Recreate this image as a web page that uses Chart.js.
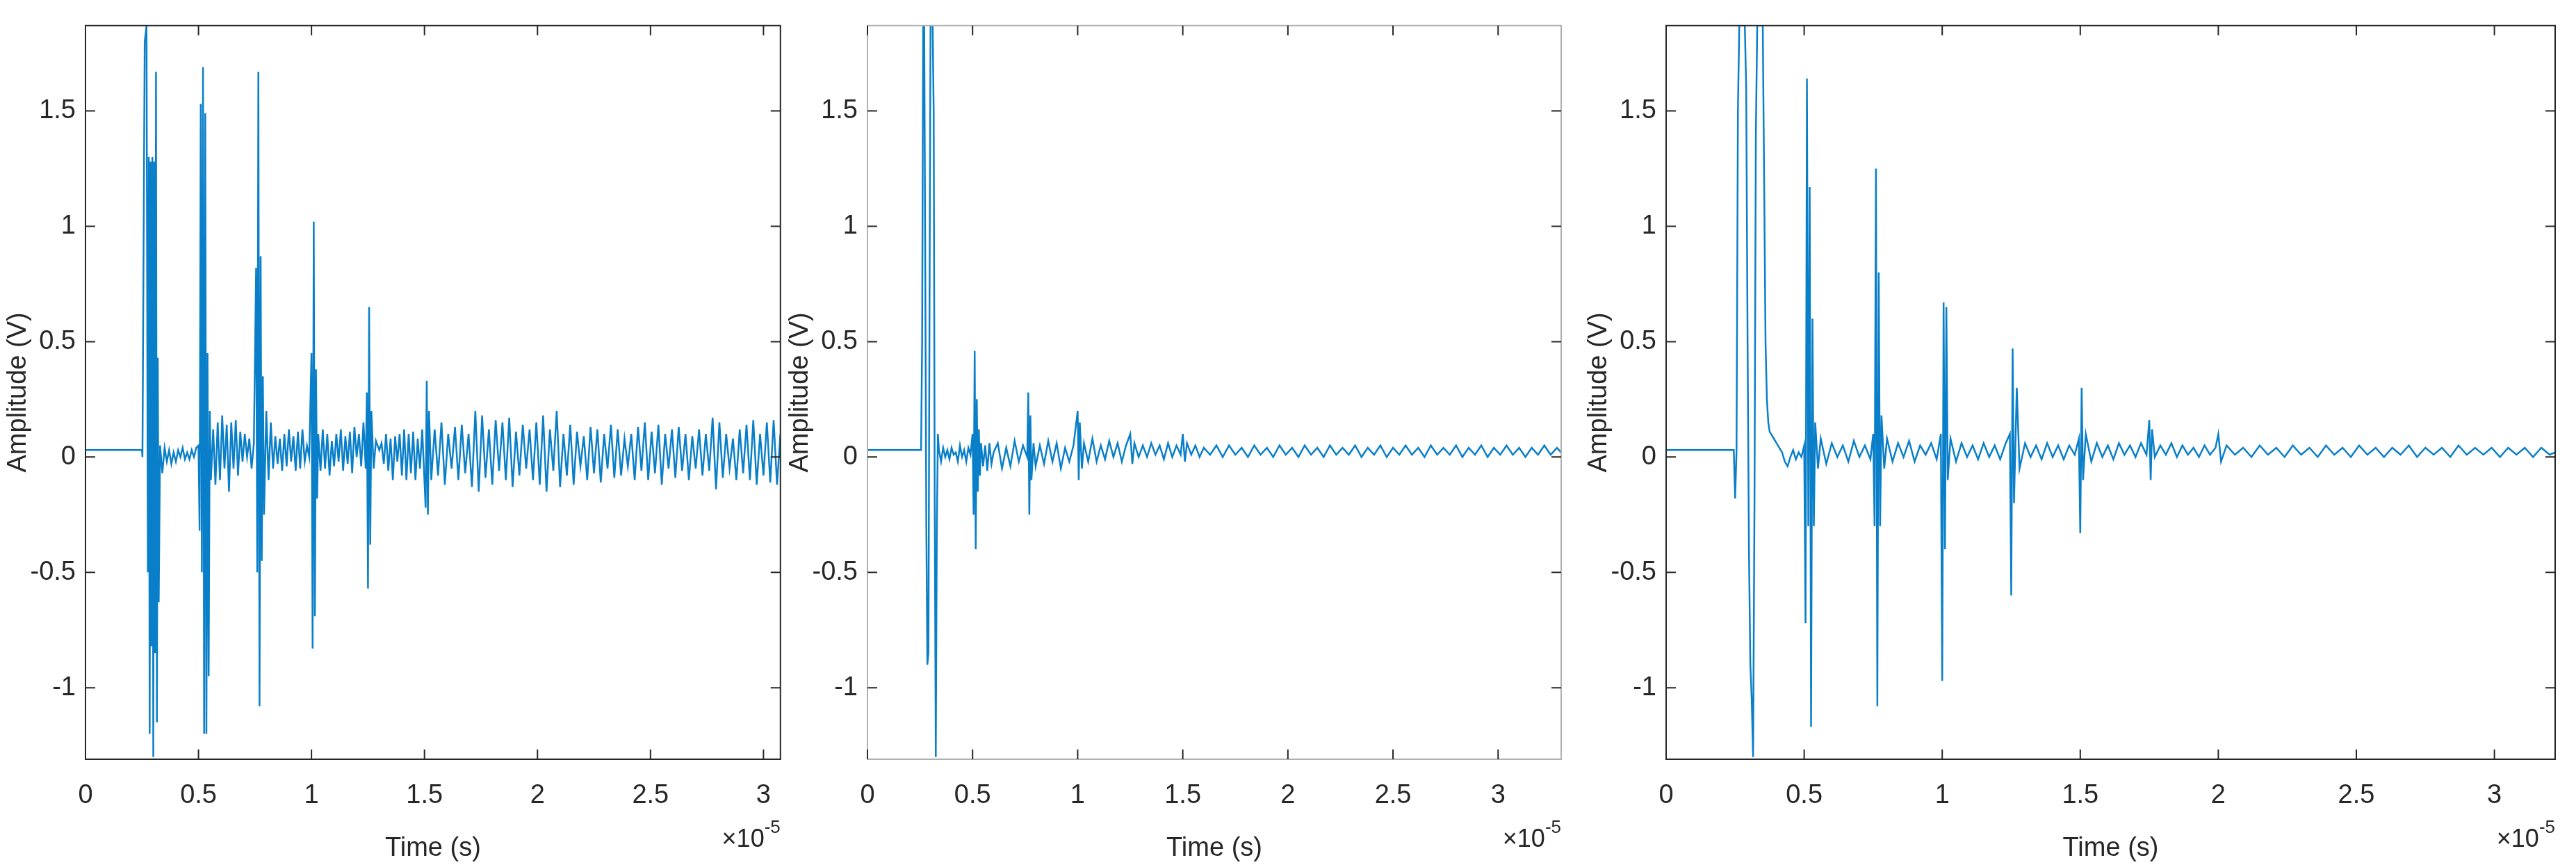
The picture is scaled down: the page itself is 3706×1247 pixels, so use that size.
<!DOCTYPE html>
<html>
<head>
<meta charset="utf-8">
<script src="https://cdn.jsdelivr.net/npm/chart.js@4"></script>
<style>
  body { margin: 0; background: #fff; width: 3706px; height: 1247px; position: relative; overflow: hidden; }
  .wrap { position: absolute; top: 0; height: 1247px; }
</style>
</head>
<body>
<div class="wrap" id="w1" style="left:0px;width:1139px"><canvas id="c1"></canvas></div>
<div class="wrap" id="w2" style="left:1125px;width:1123px"><canvas id="c2"></canvas></div>
<div class="wrap" id="w3" style="left:2274px;width:1404px"><canvas id="c3"></canvas></div>
<script>
'use strict';

// time in units of 1e-5 s, amplitude in V
const t1 = [0,0.25,0.252,0.262,0.27,0.276,0.28,0.284,0.288,0.292,0.296,0.30,0.304,0.308,0.312,0.316,0.32,0.324,0.33,0.34,0.35,0.36,0.37,0.38,0.39,0.40,0.41,0.42,0.43,0.44,0.45,0.46,0.47,0.48,0.49,0.50,
  0.505,0.51,0.515,0.52,0.525,0.53,0.535,0.54,0.545,0.55,0.555,0.565,0.575,0.585,0.595,0.605,0.615,0.625,0.635,0.645,0.655,0.665,0.675,0.685,0.695,0.705,0.715,0.725,0.735,0.745,
  0.755,0.76,0.765,0.77,0.775,0.78,0.785,0.79,0.80,0.81,0.82,0.83,0.84,0.85,0.86,0.87,0.88,0.89,0.90,0.91,0.92,0.93,0.94,0.95,0.96,0.97,0.98,0.99,
  1.0,1.005,1.01,1.015,1.02,1.025,1.03,1.04,1.05,1.06,1.07,1.08,1.09,1.10,1.11,1.12,1.13,1.14,1.15,1.16,1.17,1.18,1.19,1.20,1.21,1.22,1.23,1.24,
  1.245,1.25,1.255,1.26,1.265,1.275,1.285,1.30,1.31,1.32,1.33,1.34,1.35,1.36,1.37,1.38,1.39,1.40,1.41,1.42,1.43,1.44,1.45,1.46,1.47,1.48,1.49,
  1.505,1.51,1.515,1.52,1.53,1.545,1.56,1.575,1.59,1.605,1.62,1.635,1.65,1.665,1.68,1.695,1.71,1.725,1.74,1.755,1.77,1.785,1.80,1.815,1.83,1.845,1.86,1.875,1.89,1.905,1.92,1.935,1.95,1.965,1.98,1.995,
  2.01,2.025,2.04,2.055,2.07,2.085,2.10,2.115,2.13,2.145,2.16,2.175,2.19,2.205,2.22,2.235,2.25,2.265,2.28,2.295,2.31,2.325,2.34,2.355,2.37,2.385,2.40,2.415,2.43,2.445,2.46,2.475,2.49,
  2.505,2.52,2.535,2.55,2.565,2.58,2.595,2.61,2.625,2.64,2.655,2.67,2.685,2.70,2.715,2.73,2.745,2.76,2.775,2.79,2.805,2.82,2.835,2.85,2.865,2.88,2.895,2.91,2.925,2.94,2.955,2.97,2.985,3.00,3.015,3.03,3.045,3.06,3.075];
const v1 = [0.03,0.03,0.0,1.8,1.87,-0.5,1.3,-1.2,1.28,-0.82,1.3,-1.3,1.28,-0.85,1.67,-1.15,0.43,-0.63,0.05,-0.07,0.04,-0.02,0.03,-0.03,0.02,-0.02,0.03,0.0,0.04,-0.01,0.02,-0.01,0.03,0.0,0.04,0.05,
  -0.32,1.53,-0.5,1.69,-1.2,1.49,-1.2,0.45,-0.95,0.2,-0.1,0.12,-0.12,0.15,-0.1,0.18,-0.05,0.14,-0.15,0.15,-0.05,0.16,-0.08,0.11,-0.02,0.1,0.0,0.08,-0.05,0.06,
  0.82,-0.5,1.67,-1.08,0.87,-0.45,0.35,-0.25,0.2,-0.1,0.15,-0.05,0.09,-0.03,0.08,-0.06,0.1,-0.04,0.12,-0.02,0.09,-0.06,0.11,-0.05,0.12,-0.02,0.05,0.0,
  0.45,-0.83,1.02,-0.69,0.38,-0.18,0.1,-0.06,0.12,-0.05,0.1,-0.08,0.07,-0.04,0.1,-0.02,0.12,-0.06,0.09,-0.03,0.11,-0.07,0.13,0.0,0.1,-0.04,0.15,-0.05,
  0.28,-0.57,0.65,-0.38,0.2,-0.05,0.07,0.03,0.06,-0.03,0.1,-0.06,0.08,-0.1,0.09,-0.02,0.1,-0.08,0.12,-0.1,0.1,-0.07,0.11,-0.1,0.08,-0.05,0.12,
  -0.22,0.33,-0.25,0.2,-0.1,0.12,-0.08,0.15,-0.12,0.1,-0.05,0.13,-0.1,0.14,-0.07,0.1,-0.13,0.2,-0.15,0.18,-0.09,0.12,-0.12,0.16,-0.06,0.15,-0.1,0.17,-0.13,0.11,-0.08,0.14,-0.05,0.12,-0.1,0.15,
  -0.12,0.18,-0.15,0.12,-0.06,0.2,-0.13,0.1,-0.08,0.14,-0.12,0.11,-0.04,0.09,-0.1,0.13,-0.07,0.12,-0.11,0.1,-0.05,0.14,-0.09,0.12,-0.08,0.08,-0.04,0.1,-0.1,0.13,-0.06,0.15,-0.1,
  0.11,-0.07,0.14,-0.12,0.1,-0.05,0.12,-0.09,0.13,-0.06,0.1,-0.1,0.09,-0.05,0.12,-0.08,0.1,-0.06,0.17,-0.14,0.15,-0.09,0.1,-0.05,0.08,-0.1,0.12,-0.07,0.14,-0.1,0.16,-0.12,0.1,-0.08,0.15,-0.11,0.16,-0.12,0.1];

const t2 = [0,0.25,0.255,0.26,0.265,0.27,0.275,0.28,0.285,0.29,0.295,0.30,0.305,0.31,0.315,0.32,0.325,0.33,0.335,0.34,0.35,0.36,0.37,0.38,0.39,0.40,0.41,0.42,0.43,0.44,0.45,0.46,0.47,0.48,0.49,
  0.50,0.505,0.51,0.515,0.52,0.525,0.53,0.535,0.54,0.55,0.56,0.57,0.58,0.59,0.60,0.62,0.64,0.66,0.68,0.70,0.72,0.74,0.76,0.765,0.77,0.775,0.78,0.79,0.80,0.82,0.84,0.86,0.88,0.90,0.92,0.94,0.96,0.98,
  1.0,1.005,1.01,1.02,1.03,1.05,1.07,1.09,1.11,1.13,1.15,1.17,1.19,1.21,1.23,1.25,1.26,1.27,1.29,1.31,1.33,1.35,1.37,1.39,1.41,1.43,1.45,1.47,1.49,1.50,1.51,1.52,1.54,1.56,1.58,1.60,
  1.63,1.66,1.69,1.72,1.75,1.78,1.81,1.84,1.87,1.90,1.93,1.96,1.99,2.02,2.05,2.08,2.11,2.14,2.17,2.20,2.23,2.26,2.29,2.32,2.35,2.38,2.41,2.44,2.47,2.50,2.53,2.56,2.59,2.62,2.65,2.68,2.71,2.74,2.77,2.80,2.83,2.86,2.89,2.92,2.95,2.98,3.01,3.04,3.07,3.10,3.13,3.16,3.19,3.22,3.25,3.28,3.30];
const v2 = [0.03,0.03,0.03,0.5,1.87,1.87,0.8,-0.3,-0.9,-0.85,0.6,1.87,1.87,1.87,1.5,-0.2,-1.3,-0.3,0.1,0.03,-0.02,0.04,0.0,0.03,-0.01,0.04,0.01,0.02,-0.02,0.05,0.0,0.03,-0.02,0.04,0.01,
  0.1,-0.25,0.46,-0.4,0.25,-0.15,0.12,-0.08,0.06,-0.04,0.05,-0.06,0.06,-0.03,0.02,0.06,-0.05,0.04,-0.04,0.07,-0.02,0.05,0.0,0.28,-0.25,0.18,-0.1,0.06,-0.04,0.05,-0.03,0.07,-0.02,0.06,-0.05,0.04,-0.02,0.05,
  0.2,-0.1,0.15,-0.05,0.06,-0.02,0.08,-0.02,0.05,-0.01,0.07,0.0,0.06,-0.02,0.05,0.1,-0.03,0.06,0.0,0.05,0.0,0.06,0.01,0.05,-0.01,0.06,0.0,0.05,0.01,0.1,-0.02,0.06,0.01,0.05,0.0,0.04,
  0.01,0.05,0.0,0.05,0.01,0.04,0.0,0.05,0.01,0.04,0.0,0.05,0.01,0.04,0.0,0.05,0.01,0.04,0.0,0.05,0.01,0.04,0.01,0.05,0.0,0.04,0.01,0.05,0.0,0.04,0.01,0.05,0.01,0.04,0.0,0.05,0.01,0.04,0.01,0.05,0.0,0.04,0.01,0.05,0.0,0.04,0.01,0.05,0.01,0.04,0.0,0.04,0.01,0.05,0.01,0.04,0.02];

const t3 = [0,0.245,0.25,0.255,0.26,0.265,0.285,0.29,0.295,0.30,0.305,0.31,0.315,0.32,0.325,0.33,0.335,0.35,0.355,0.36,0.365,0.37,0.375,0.38,0.39,0.40,0.41,0.42,0.43,0.44,0.45,0.46,0.47,0.48,0.49,
  0.50,0.505,0.51,0.515,0.52,0.525,0.53,0.535,0.54,0.55,0.56,0.58,0.60,0.62,0.64,0.66,0.68,0.70,0.72,0.74,
  0.75,0.755,0.76,0.765,0.77,0.775,0.78,0.79,0.80,0.82,0.84,0.86,0.88,0.90,0.92,0.94,0.96,0.98,
  0.995,1.0,1.005,1.01,1.015,1.02,1.03,1.05,1.07,1.09,1.11,1.13,1.15,1.17,1.19,1.21,1.23,
  1.245,1.25,1.255,1.26,1.27,1.28,1.30,1.32,1.34,1.36,1.38,1.40,1.42,1.44,1.46,1.48,
  1.495,1.50,1.505,1.51,1.52,1.54,1.56,1.58,1.60,1.62,1.64,1.66,1.68,1.70,1.72,1.74,1.75,1.755,1.76,1.77,1.79,1.81,1.83,1.85,1.87,1.89,1.91,1.93,1.95,1.97,1.99,2.0,2.01,2.03,
  2.06,2.09,2.12,2.15,2.18,2.21,2.24,2.27,2.30,2.33,2.36,2.39,2.42,2.45,2.48,2.51,2.54,2.57,2.60,2.63,2.66,2.69,2.72,2.75,2.78,2.81,2.84,2.87,2.90,2.93,2.96,2.99,3.02,3.05,3.08,3.11,3.14,3.17,3.20,3.22];
const v3 = [0.03,0.03,-0.18,0.03,1.5,1.87,1.87,1.6,0.5,-0.4,-0.9,-1.05,-1.3,-0.2,1.4,1.87,1.87,1.87,1.2,0.5,0.25,0.15,0.11,0.1,0.08,0.06,0.04,0.02,-0.02,-0.04,0.0,0.03,-0.01,0.02,0.0,
  0.05,-0.72,1.64,-0.3,1.17,-1.17,0.6,-0.3,0.15,-0.05,0.08,-0.03,0.06,0.0,0.05,-0.02,0.07,0.0,0.05,-0.01,
  0.1,-0.3,1.25,-1.08,0.8,-0.3,0.18,-0.05,0.08,-0.02,0.06,0.0,0.07,-0.02,0.05,0.01,0.06,-0.01,
  0.1,-0.97,0.67,-0.4,0.65,-0.1,0.08,-0.02,0.06,0.0,0.05,-0.01,0.06,0.0,0.05,-0.01,0.06,
  0.1,-0.6,0.47,-0.2,0.3,-0.05,0.06,0.0,0.05,-0.01,0.06,0.0,0.05,-0.01,0.05,0.01,
  0.08,-0.33,0.3,-0.1,0.1,-0.02,0.06,0.0,0.05,-0.01,0.06,0.01,0.05,0.0,0.06,0.01,0.16,-0.1,0.12,0.0,0.05,0.01,0.06,0.0,0.05,0.01,0.04,0.0,0.05,0.01,0.04,0.1,-0.02,0.05,
  0.01,0.04,0.0,0.05,0.01,0.04,0.0,0.05,0.01,0.04,0.0,0.05,0.01,0.04,0.0,0.05,0.01,0.04,0.0,0.04,0.01,0.05,0.0,0.04,0.01,0.04,0.0,0.05,0.01,0.04,0.01,0.04,0.0,0.04,0.01,0.04,0.0,0.04,0.01,0.02];

const xTicks = [0, 0.5, 1, 1.5, 2, 2.5, 3];
const yTicks = [-1, -0.5, 0, 0.5, 1, 1.5];

const FONT = '"Liberation Sans Narrow", "Liberation Sans", Arial, sans-serif';
const LINE = '#0a7fc9';

// MATLAB style box with inward ticks plus the exponent note
const boxPlugin = {
  id: 'box',
  afterDraw(chart, args, opts) {
    const { ctx, chartArea: a, scales } = chart;
    ctx.save();
    ctx.strokeStyle = opts.color;
    ctx.lineWidth = 2;
    ctx.strokeRect(a.left, a.top, a.right - a.left, a.bottom - a.top);
    ctx.strokeStyle = '#262626';
    ctx.beginPath();
    xTicks.forEach(v => {
      const x = scales.x.getPixelForValue(v);
      ctx.moveTo(x, a.bottom); ctx.lineTo(x, a.bottom - 14);
      ctx.moveTo(x, a.top); ctx.lineTo(x, a.top + 14);
    });
    yTicks.forEach(v => {
      const y = scales.y.getPixelForValue(v);
      ctx.moveTo(a.left, y); ctx.lineTo(a.left + 14, y);
      ctx.moveTo(a.right, y); ctx.lineTo(a.right - 14, y);
    });
    ctx.stroke();
    ctx.fillStyle = '#262626';
    ctx.textAlign = 'right';
    ctx.textBaseline = 'alphabetic';
    ctx.font = '26px ' + FONT;
    ctx.fillText('-5', a.right, 1198);
    const w = ctx.measureText('-5').width;
    ctx.font = '36px ' + FONT;
    ctx.fillText('\u00d710', a.right - w, 1218);
    ctx.restore();
  }
};

function makeChart(id, t, v, xMax, boxColor) {
  const pts = t.map((x, i) => ({ x: x, y: v[i] }));
  return new Chart(document.getElementById(id), {
    type: 'line',
    data: { datasets: [{ data: pts, borderColor: LINE, borderWidth: 2.5, pointRadius: 0, tension: 0 }] },
    plugins: [boxPlugin],
    options: {
      responsive: true,
      maintainAspectRatio: false,
      animation: false,
      layout: { padding: { top: 5, right: 2, left: 0, bottom: 0 } },
      plugins: { legend: { display: false }, tooltip: { enabled: false }, box: { color: boxColor } },
      scales: {
        x: {
          type: 'linear', min: 0, max: xMax,
          afterBuildTicks: s => { s.ticks = xTicks.map(value => ({ value })); },
          afterFit: s => { s.height = 155; },
          grid: { display: false, drawTicks: false },
          border: { display: false },
          ticks: { color: '#262626', font: { family: FONT, size: 38 }, padding: 30, maxRotation: 0, callback: val => String(val) },
          title: { display: true, text: 'Time (s)', color: '#262626', font: { family: FONT, size: 38 }, padding: { top: 2 } }
        },
        y: {
          type: 'linear', min: -1.31, max: 1.87,
          afterBuildTicks: s => { s.ticks = yTicks.map(value => ({ value })); },
          afterFit: s => { s.width = 123; },
          grid: { display: false, drawTicks: false },
          border: { display: false },
          ticks: { color: '#262626', font: { family: FONT, size: 38 }, padding: 14, callback: val => String(val) },
          title: { display: true, text: 'Amplitude (V)', color: '#262626', font: { family: FONT, size: 38 }, padding: { bottom: 2 } }
        }
      }
    }
  });
}

makeChart('c1', t1, v1, 3.075, '#262626');
makeChart('c2', t2, v2, 3.30, '#b0b0b0');
makeChart('c3', t3, v3, 3.22, '#262626');
</script>
</body>
</html>
